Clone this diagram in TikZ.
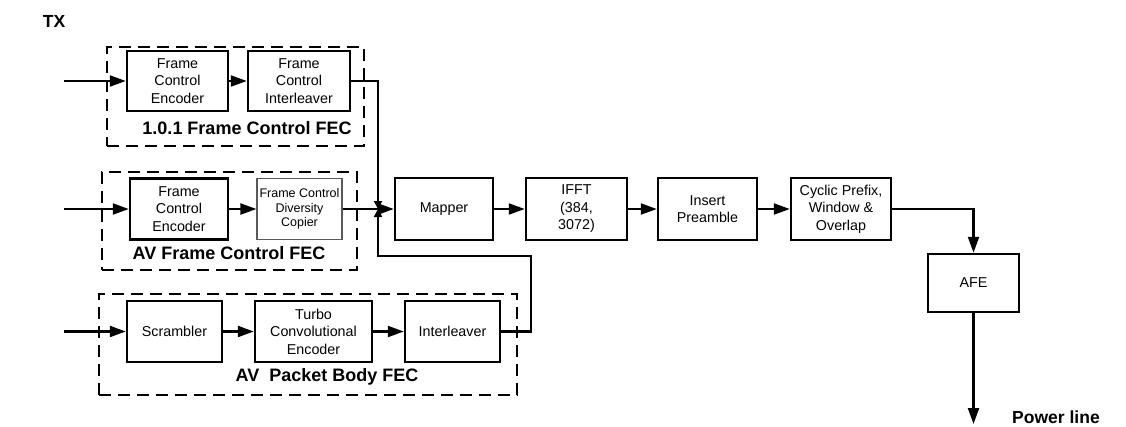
\documentclass[tikz,border=0pt]{standalone}
\usepackage{fontspec}
\setmainfont{Liberation Sans}
\usetikzlibrary{arrows.meta}
\begin{document}
\begin{tikzpicture}[x=1pt,y=-1pt,
  block/.style={draw, line width=2.5pt, align=center, inner sep=0pt,
    font=\fontsize{14.3}{17.5}\selectfont},
  softblock/.style={draw=black!65, line width=1.2pt, align=center, inner sep=0pt,
    font=\fontsize{12.5}{14.5}\selectfont},
  group/.style={draw, line width=2.3pt, dash pattern=on 12pt off 7pt, inner sep=0pt},
  grouplabel/.style={font=\fontsize{18}{20}\selectfont\bfseries, inner sep=0pt},
  conn/.style={line width=2.2pt, -{Triangle[length=16pt,width=11pt]}},
  joinarrow/.style={line width=2.2pt, -{Triangle[length=8pt,width=8pt]}},
  wire/.style={line width=2.2pt}
]
\useasboundingbox (0,0) rectangle (1126,426);

\node[font=\fontsize{17.5}{20}\selectfont\bfseries, inner sep=0pt] (tx) at (54,21) {TX};

% Frame control FEC (1.0.1)
\node[group, minimum width=257pt, minimum height=99pt] (g1) at (235.5,96.5) {};
\node[block, minimum width=101pt, minimum height=60pt] (fce1) at (177.5,81) {Frame\\Control\\Encoder};
\node[block, minimum width=102pt, minimum height=60pt] (fci1) at (299,81) {Frame\\Control\\Interleaver};
\node[grouplabel] (l1) at (247,128) {1.0.1 Frame Control FEC};

% AV frame control FEC
\node[group, minimum width=255pt, minimum height=98pt] (g2) at (229.5,221) {};
\node[block, minimum width=98pt, minimum height=61pt] (fce2) at (179,209) {Frame\\Control\\Encoder};
\node[softblock, minimum width=85pt, minimum height=61pt] (copier) at (299.5,209) {Frame Control\\Diversity\\Copier};
\node[grouplabel] (l2) at (229,253) {AV Frame Control FEC};

% AV packet body FEC
\node[group, minimum width=418pt, minimum height=101pt] (g3) at (308,344.5) {};
\node[block, minimum width=95pt, minimum height=61pt] (scr) at (174.5,331.5) {Scrambler};
\node[block, minimum width=117pt, minimum height=61pt] (tce) at (313.5,331.5) {Turbo\\Convolutional\\Encoder};
\node[block, minimum width=95pt, minimum height=61pt] (intl) at (452.5,331.5) {Interleaver};
\node[grouplabel] (l3) at (327,377) {AV~ Packet Body FEC};

% modulation chain
\node[block, minimum width=98pt, minimum height=62pt] (map) at (444,209) {Mapper};
\node[block, minimum width=101pt, minimum height=62pt] (ifft) at (576.5,209) {IFFT\\(384,\\3072)};
\node[block, minimum width=99pt, minimum height=62pt] (pre) at (707.5,209) {Insert\\Preamble};
\node[block, minimum width=100pt, minimum height=62pt] (cp) at (841,209) {Cyclic Prefix,\\Window \&\\Overlap};
\node[block, minimum width=91pt, minimum height=58pt] (afe) at (973.5,283) {AFE};
\node[font=\fontsize{17.5}{20}\selectfont\bfseries, inner sep=0pt, anchor=west] (pl) at (1012,417) {Power line};

% inputs and junction points
\coordinate (in1) at (64,81);
\coordinate (in2) at (64,209);
\coordinate (in3) at (64,331.5);
\coordinate (j) at (378,209);
\coordinate (out) at (973.5,424);

% connectors
\draw[conn] (in1) -- (fce1);
\draw[conn] (fce1) -- (fci1);
\draw[conn] (in2) -- (fce2);
\draw[conn] (fce2) -- (copier);
\draw[conn] (in3) -- (scr);
\draw[conn] (scr) -- (tce);
\draw[conn] (tce) -- (intl);

\draw[joinarrow] (fci1.east) -- (fci1.east -| j) -- (j);
\draw[joinarrow] (intl.east) -- (531,331.5) -- (531,256) -- (378,256) -- (j);
\draw[conn] (copier) -- (map);

\draw[conn] (map) -- (ifft);
\draw[conn] (ifft) -- (pre);
\draw[conn] (pre) -- (cp);
\draw[conn] (cp.east) -| (afe.north);
\draw[conn] (afe.south) -- (out);
\end{tikzpicture}
\end{document}
